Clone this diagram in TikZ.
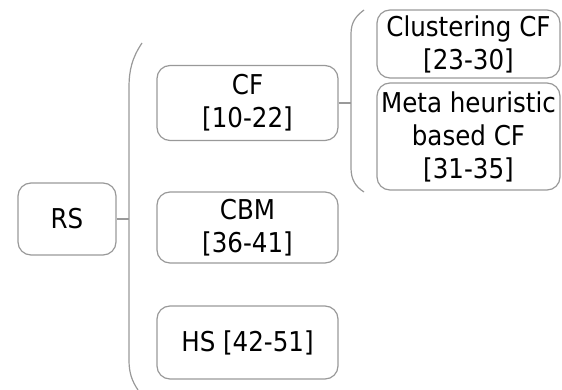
\documentclass[tikz,border=0pt]{standalone}
\usepackage{fontspec}
\setmainfont{DejaVu Sans Condensed}
\begin{document}
\begin{tikzpicture}[x=1pt,y=-1pt,
  box/.style={draw=black!40,line width=1.2pt,rounded corners=13pt,align=center,inner sep=0pt,font=\fontsize{27.3}{33}\selectfont},
  brace/.style={draw=black!40,line width=1.2pt}]
\useasboundingbox (0,0) rectangle (562,390);
\node[box,minimum width=98pt,minimum height=72pt] (rs) at (67,219) {RS};
\node[box,minimum width=181pt,minimum height=75pt] (cf) at (247.5,103) {CF\\{}[10-22]};
\node[box,minimum width=181pt,minimum height=71pt] (cbm) at (247.5,227.5) {CBM\\{}[36-41]};
\node[box,minimum width=181pt,minimum height=73pt] (hs) at (247.5,342.5) {HS [42-51]};
\node[box,minimum width=183pt,minimum height=68pt] (clu) at (468.5,44) {Clustering CF\\{}[23-30]};
\node[box,minimum width=183pt,minimum height=107pt] (meta) at (468.5,136.5) {Meta heuristic\\based CF\\{}[31-35]};
% brackets
\draw[brace] (142,43) .. controls (132,58) and (129,70) .. (129,88) -- (129,360) .. controls (129,373) and (132,381) .. (138,390);
\draw[brace] (364,10) .. controls (356,16) and (351,22) .. (351,34) -- (351,168) .. controls (351,180) and (356,187) .. (364,192);
\coordinate (jl) at (129,219);
\coordinate (jr) at (351,103);
\draw[brace] (rs.east) -- (jl);
\draw[brace] (cf.east) -- (jr);
\end{tikzpicture}
\end{document}
